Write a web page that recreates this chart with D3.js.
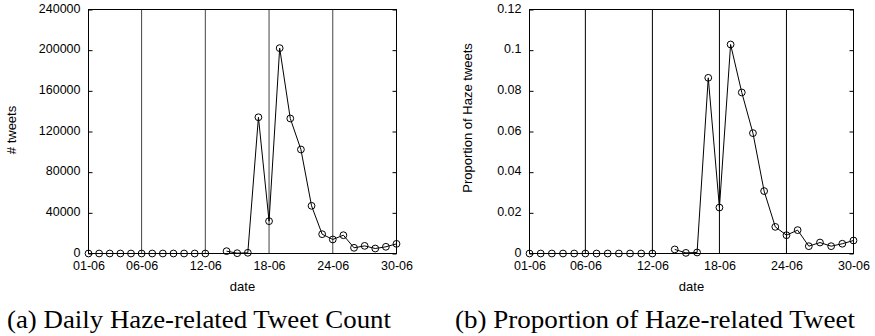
<!DOCTYPE html>
<html>
<head>
<meta charset="utf-8">
<script src="https://cdn.jsdelivr.net/npm/d3@7"></script>
<style>
  html, body { margin: 0; padding: 0; background: #fff; }
  svg { display: block; }
  .tick text { font-family: "Liberation Sans", Arial, sans-serif; font-size: 12.5px; fill: #000; }
</style>
</head>
<body>
<div id="chart"></div>
<script>
// days of June; 13-06 has no value
const days = d3.range(1, 31);
const tweetCounts = [0, 0, 0, 0, 0, 0, 0, 0, 0, 0, 0, 0, null, 2300, 300, 700,
  134000, 31800, 202000, 132800, 102300, 46900, 19000, 13800, 18000, 5600, 7500, 4900, 6600, 9500];
const hazeProportion = [0, 0, 0, 0, 0, 0, 0, 0, 0, 0, 0, 0, null, 0.002, 0.0003, 0.0005,
  0.0864, 0.0226, 0.1028, 0.0792, 0.0592, 0.0307, 0.0131, 0.009, 0.0115, 0.0036, 0.0054, 0.0036, 0.0048, 0.0064];

const xTickDays = [1, 6, 12, 18, 24, 30];
const xTickLabels = ['01-06', '06-06', '12-06', '18-06', '24-06', '30-06'];
const markerDays = [6, 12, 18, 24];
const countTicks = [0, 40000, 80000, 120000, 160000, 200000, 240000];
const proportionTicks = [0, 0.02, 0.04, 0.06, 0.08, 0.1, 0.12];

const width = 875;
const height = 336;

const svg = d3.select('#chart')
  .append('svg')
  .attr('width', width)
  .attr('height', height);

function drawPanel(opts) {
  const { values, yTicks, left, right, top, bottom, yLabel, yLabelX, yLabelY, caption, captionX, captionLen, markerColor } = opts;

  const x = d3.scaleLinear().domain([1, 30]).range([left, right]);
  const y = d3.scaleLinear().domain([0, yTicks[yTicks.length - 1]]).range([bottom, top]);
  const data = days.map((d, i) => ({ day: d, value: values[i] }));

  const g = svg.append('g');

  // vertical marker lines
  g.selectAll('.marker')
    .data(markerDays)
    .enter()
    .append('line')
    .attr('x1', d => x(d))
    .attr('x2', d => x(d))
    .attr('y1', top)
    .attr('y2', bottom)
    .attr('stroke', markerColor)
    .attr('stroke-width', 1);

  // y axis (ticks inside, mirrored on the right)
  g.append('g')
    .attr('transform', `translate(${left},0)`)
    .call(d3.axisLeft(y).tickValues(yTicks).tickFormat(d => `${d}`).tickSizeInner(-4).tickSizeOuter(0).tickPadding(8))
    .call(a => a.select('.domain').remove())
    .call(a => a.selectAll('.tick line').attr('stroke', '#000'))
    .call(a => a.selectAll('.tick text').attr('dy', '0.2em'));

  g.append('g')
    .attr('transform', `translate(${right},0)`)
    .call(d3.axisRight(y).tickValues(yTicks).tickFormat('').tickSizeInner(-4).tickSizeOuter(0))
    .call(a => a.select('.domain').remove())
    .call(a => a.selectAll('.tick line').attr('stroke', '#000'));

  // x axis
  g.append('g')
    .attr('transform', `translate(0,${bottom})`)
    .call(d3.axisBottom(x).tickValues(xTickDays).tickFormat((d, i) => xTickLabels[i]).tickSize(0).tickPadding(8))
    .call(a => a.select('.domain').remove());

  // frame
  g.append('rect')
    .attr('x', left)
    .attr('y', top)
    .attr('width', right - left)
    .attr('height', bottom - top)
    .attr('fill', 'none')
    .attr('stroke', '#000')
    .attr('stroke-width', 1);

  const line = d3.line()
    .defined(d => d.value !== null)
    .x(d => x(d.day))
    .y(d => y(d.value));

  g.append('path')
    .datum(data)
    .attr('fill', 'none')
    .attr('stroke', '#000')
    .attr('stroke-width', 1)
    .attr('d', line);

  g.selectAll('.dot')
    .data(data.filter(d => d.value !== null))
    .enter()
    .append('circle')
    .attr('cx', d => x(d.day))
    .attr('cy', d => y(d.value))
    .attr('r', 3.4)
    .attr('fill', 'none')
    .attr('stroke', '#000')
    .attr('stroke-width', 1);

  // axis labels
  g.append('text')
    .attr('x', (left + right) / 2)
    .attr('y', 291)
    .attr('text-anchor', 'middle')
    .style('font-family', '"Liberation Sans", Arial, sans-serif')
    .style('font-size', '13px')
    .text('date');

  g.append('text')
    .attr('transform', `translate(${yLabelX},${yLabelY}) rotate(-90)`)
    .attr('text-anchor', 'middle')
    .style('font-family', '"Liberation Sans", Arial, sans-serif')
    .style('font-size', '13px')
    .text(yLabel);

  g.append('text')
    .attr('x', captionX)
    .attr('y', 328)
    .attr('textLength', captionLen)
    .attr('lengthAdjust', 'spacingAndGlyphs')
    .style('font-family', '"Liberation Serif", "Times New Roman", serif')
    .style('font-size', '25px')
    .text(caption);
}

drawPanel({
  values: tweetCounts,
  yTicks: countTicks,
  left: 88.5, right: 396.5, top: 9.5, bottom: 253.5,
  yLabel: '# tweets', yLabelX: 16, yLabelY: 130,
  caption: '(a) Daily Haze-related Tweet Count', captionX: 7, captionLen: 384,
  markerColor: '#444'
});

drawPanel({
  values: hazeProportion,
  yTicks: proportionTicks,
  left: 529.5, right: 853.5, top: 9.5, bottom: 253.5,
  yLabel: 'Proportion of Haze tweets', yLabelX: 472, yLabelY: 118,
  caption: '(b) Proportion of Haze-related Tweet', captionX: 455, captionLen: 400,
  markerColor: '#000'
});
</script>
</body>
</html>
